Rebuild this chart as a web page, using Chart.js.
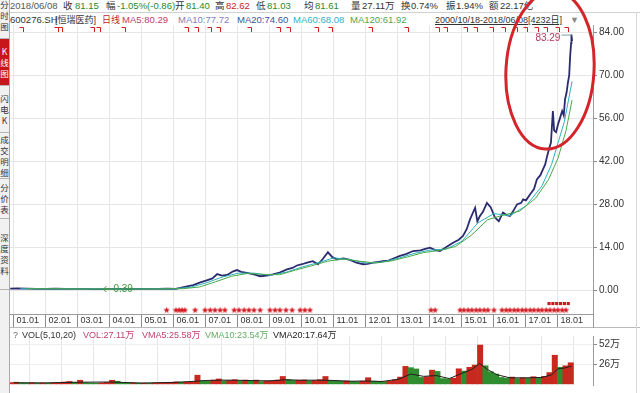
<!DOCTYPE html>
<html>
<head>
<meta charset="utf-8">
<script src="https://cdn.jsdelivr.net/npm/chart.js@4.4.1/dist/chart.umd.min.js"></script>
<style>
  html, body { margin: 0; padding: 0; background: #fff; }
  #page { position: relative; width: 640px; height: 393px; overflow: hidden; background: #fff;
          font-family: "Liberation Sans", Arial, "Noto Sans CJK SC", sans-serif; color: #333; }
  .t { position: absolute; white-space: nowrap; line-height: 12px; }
  .r1 { top: 0; font-size: 9.5px; }
  .r2 { top: 14px; font-size: 9.5px; }
  .g { color: #1f8a1f; }
  .red { color: #c41f1f; }
  #side { position: absolute; left: 0; top: 0; width: 9px; height: 393px; background: #f1f1f1;
          border-right: 1px solid #a9a9a9; z-index: 4; overflow: hidden; }
  .tab { position: absolute; left: 0; width: 9px; font-size: 8.5px; color: #333;
         border-bottom: 1px solid #b5b5b5; font-family: "Noto Sans CJK SC", sans-serif;
         display: flex; flex-direction: column; align-items: center; justify-content: center; }
  .tab span { display: block; line-height: 11px; height: 11px; }
  .tab.on { background: #c8161d; color: #fff; }
  .line { position: absolute; background: #b9b9b9; }
  canvas { position: absolute; left: 0; }
  #price { top: 0; z-index: 2; }
  #vol { top: 328px; z-index: 2; }
  .v { top: 329px; font-size: 9px; z-index: 3; }
</style>
</head>
<body>
<div id="page">
  <!-- header row 1 -->
  <span class="t r1" style="left:10px;color:#555">2018/06/08</span>
  <span class="t r1" style="left:63px">收</span><span class="t r1 g" style="left:75px">81.15</span>
  <span class="t r1" style="left:106px">幅</span><span class="t r1 g" style="left:117px">-1.05%(-0.86)</span>
  <span class="t r1" style="left:175px">开</span><span class="t r1 g" style="left:186px">81.40</span>
  <span class="t r1" style="left:215px">高</span><span class="t r1 red" style="left:226px">82.62</span>
  <span class="t r1" style="left:256px">低</span><span class="t r1 g" style="left:267px">81.03</span>
  <span class="t r1" style="left:304px">均</span><span class="t r1 g" style="left:315px">81.61</span>
  <span class="t r1" style="left:351px">量</span><span class="t r1" style="left:362px">27.11万</span>
  <span class="t r1" style="left:401px">换</span><span class="t r1" style="left:411px">0.74%</span>
  <span class="t r1" style="left:446px">振</span><span class="t r1" style="left:456px">1.94%</span>
  <span class="t r1" style="left:489px">额</span><span class="t r1" style="left:500px">22.17亿</span>
  <div class="line" style="left:10px;top:12px;width:630px;height:1px;background:#d0d0d0"></div>
  <!-- header row 2 -->
  <span class="t r2" style="left:10px">600276.SH</span>
  <span class="t r2" style="left:55px;font-size:9px">[恒瑞医药]</span>
  <span class="t r2 red" style="left:102px;font-size:9px">日线</span>
  <span class="t r2" style="left:122px;color:#c0406e">MA5:80.29</span>
  <span class="t r2" style="left:178px;color:#7d83bd">MA10:77.72</span>
  <span class="t r2" style="left:237px;color:#34569e">MA20:74.60</span>
  <span class="t r2" style="left:293px;color:#2fb2c8">MA60:68.08</span>
  <span class="t r2" style="left:350px;color:#4fa64f">MA120:61.92</span>
  <span class="t r2" style="left:435px;text-decoration:underline;font-size:9px">2000/10/18-2018/06/08[4232日]</span>
  <span class="t r2" style="left:570px;color:#888;font-size:9px">▼</span>

  <div id="side">
    <div class="tab" style="top:-8px;height:46px"><span>分</span><span>时</span><span>图</span></div>
    <div class="tab on" style="top:39px;height:46px"><span>K</span><span>线</span><span>图</span></div>
    <div class="tab" style="top:86px;height:46px"><span>闪</span><span>电</span><span>K</span></div>
    <div class="tab" style="top:133px;height:45px"><span>成</span><span>交</span><span>明</span><span>细</span></div>
    <div class="tab" style="top:179px;height:39px"><span>分</span><span>价</span><span>表</span></div>
    <div class="tab" style="top:219px;height:70px"><span>深</span><span>度</span><span>资</span><span>料</span></div>
  </div>

  <canvas id="price" width="640" height="328"></canvas>
  <canvas id="vol" width="640" height="65"></canvas>

  <!-- frame lines -->
  <div class="line" style="left:10px;top:327px;width:630px;height:1px"></div>
  <div class="line" style="left:593px;top:314px;width:1px;height:14px;background:#9a9a9a"></div>
  <div class="line" style="left:636px;top:12px;width:1px;height:381px;background:#d6d6d6"></div>

  <!-- volume title -->
  <span class="t v" style="left:13px;color:#666">?</span>
  <span class="t v" style="left:22px">VOL(5,10,20)</span>
  <span class="t v" style="left:83px;color:#c0406e">VOL:27.11万</span>
  <span class="t v" style="left:142px;color:#c0406e">VMA5:25.58万</span>
  <span class="t v" style="left:205px;color:#62ad62">VMA10:23.54万</span>
  <span class="t v" style="left:273px;color:#222">VMA20:17.64万</span>
</div>

<script>
// --- Price data (adjusted close) ---
const closeDates = [2000.88, 2001.1, 2001.4, 2001.7, 2002.0, 2002.3, 2002.6, 2002.9, 2003.2, 2003.5,
  2003.7, 2004.0, 2004.3, 2004.6, 2004.9, 2005.2, 2005.5, 2005.8, 2006.05, 2006.2,
  2006.45, 2006.6, 2006.8, 2007.0, 2007.2, 2007.35, 2007.5, 2007.66, 2007.85, 2007.97,
  2008.1, 2008.28, 2008.5, 2008.69, 2008.9, 2009.09, 2009.3, 2009.53, 2009.7, 2009.84,
  2010.0, 2010.16, 2010.34, 2010.5, 2010.65, 2010.81, 2010.95, 2011.09, 2011.3, 2011.5,
  2011.7, 2011.91, 2012.05, 2012.22, 2012.4, 2012.53, 2012.7, 2012.84, 2013.06, 2013.25,
  2013.47, 2013.7, 2013.85, 2014.0, 2014.15, 2014.31, 2014.5, 2014.72, 2014.9, 2015.03,
  2015.15, 2015.25, 2015.35, 2015.41, 2015.48, 2015.56, 2015.65, 2015.78, 2015.9, 2016.03,
  2016.15, 2016.28, 2016.4, 2016.5, 2016.6, 2016.72, 2016.85, 2016.91, 2017.0, 2017.13,
  2017.25, 2017.34, 2017.45, 2017.53, 2017.6, 2017.66, 2017.72, 2017.78, 2017.84, 2017.88,
  2017.94, 2018.0, 2018.06, 2018.13, 2018.18, 2018.22, 2018.27, 2018.31, 2018.35, 2018.38,
  2018.41, 2018.42, 2018.44];
const close = [0.55, 0.6, 0.55, 0.5, 0.48, 0.52, 0.5, 0.45, 0.47, 0.42,
  0.39, 0.45, 0.48, 0.44, 0.46, 0.5, 0.48, 0.55, 0.5, 0.8,
  1.4, 1.7, 2.5, 3.2, 3.9, 5.3, 4.8, 5.0, 6.2, 6.6,
  6.0, 5.7, 5.2, 4.6, 4.8, 5.2, 5.8, 6.8, 7.3, 8.1,
  8.5, 9.0, 9.5, 8.5, 10.2, 12.4, 10.8, 10.1, 10.4, 9.9,
  9.0, 8.5, 8.6, 9.0, 9.3, 9.5, 9.7, 10.3, 11.2, 11.8,
  12.8, 13.0, 13.5, 13.9, 13.2, 12.8, 14.0, 15.5, 16.5, 17.7,
  20.0, 23.1, 25.5, 26.9, 22.5, 24.2, 25.5, 28.5, 27.0, 23.7,
  22.5, 25.3, 24.5, 24.2, 25.8, 28.0, 28.5, 29.6, 29.3, 31.3,
  33.0, 36.1, 37.5, 39.4, 41.0, 43.7, 46.0, 48.1, 58.4, 52.0,
  51.5, 54.0, 56.0, 58.4, 57.0, 62.2, 64.5, 67.6, 70.0, 76.3,
  80.5, 83.29, 81.15];

const ma60Dates = [2001.2, 2002.0, 2003.0, 2004.0, 2005.0, 2006.0, 2006.5, 2007.0, 2007.5, 2008.0,
  2008.5, 2009.0, 2009.5, 2010.0, 2010.5, 2011.0, 2011.5, 2012.0, 2012.5, 2013.0,
  2013.5, 2014.0, 2014.5, 2015.0, 2015.5, 2016.0, 2016.5, 2017.0, 2017.5, 2017.8,
  2018.0, 2018.2, 2018.44];
const ma60 = [0.55, 0.5, 0.47, 0.43, 0.46, 0.5, 1.0, 2.4, 4.3, 5.6,
  5.6, 4.9, 5.9, 7.6, 9.0, 10.6, 10.0, 8.9, 9.2, 10.4,
  12.0, 13.1, 13.4, 16.0, 22.0, 25.0, 24.3, 27.5, 34.0, 41.0,
  48.0, 55.0, 68.08];

const ma120Dates = [2001.4, 2002.5, 2003.5, 2004.5, 2005.5, 2006.3, 2006.8, 2007.3, 2007.8, 2008.3,
  2008.8, 2009.3, 2009.8, 2010.3, 2010.8, 2011.3, 2011.8, 2012.3, 2012.8, 2013.3,
  2013.8, 2014.3, 2014.8, 2015.3, 2015.8, 2016.3, 2016.8, 2017.3, 2017.7, 2018.0,
  2018.25, 2018.44];
const ma120 = [0.55, 0.5, 0.46, 0.44, 0.47, 0.55, 1.1, 2.8, 4.6, 5.5,
  5.2, 5.1, 6.6, 8.0, 9.5, 10.2, 9.5, 8.9, 9.6, 10.9,
  12.3, 13.0, 14.3, 18.0, 23.0, 24.5, 25.8, 30.0, 36.0, 43.0,
  52.0, 61.92];

// --- Volume (万手), one bar every two months from late 2000 ---
const volStart = 2000.9;
const volStep = 1 / 6;
const volume = [1.8, 2.2, 1.2, 1.0, 1.4, 0.9, 1.1, 1.0, 1.3, 1.6,
  2.4, 3.2, 2.0, 4.8, 1.6, 1.2, 1.0, 1.3, 2.0, 4.8,
  3.5, 1.5, 1.0, 1.2, 0.9, 1.0, 0.8, 1.1, 1.3, 1.5,
  2.0, 2.6, 2.2, 2.5, 3.0, 11.5, 4.0, 3.5, 5.0, 6.5,
  4.0, 4.5, 5.5, 4.0, 5.0, 3.5, 5.0, 3.0, 3.8, 4.2,
  5.0, 9.8, 5.5, 4.5, 4.8, 5.2, 4.0, 4.5, 5.5, 9.8,
  4.5, 4.0, 3.5, 3.8, 3.2, 3.0, 3.6, 8.2, 3.5, 3.2,
  3.0, 3.4, 5.5, 9.0, 23.2, 21.5, 19.8, 8.5, 9.5, 18.2,
  16.5, 7.0, 6.5, 7.5, 20.0, 17.0, 22.0, 25.0, 51.5, 24.0,
  16.0, 13.0, 8.5, 7.5, 9.0, 7.0, 8.0, 7.5, 9.5, 8.0,
  10.0, 15.0, 38.0, 22.0, 24.0, 28.0];
const vmaDates = [2001.0, 2002.0, 2003.0, 2004.0, 2005.0, 2006.0, 2006.5, 2007.0, 2007.5, 2008.0,
  2008.5, 2009.0, 2009.5, 2010.0, 2010.5, 2011.0, 2011.5, 2012.0, 2012.5, 2013.0,
  2013.4, 2013.8, 2014.2, 2014.6, 2015.0, 2015.3, 2015.55, 2015.8, 2016.1, 2016.5,
  2017.0, 2017.5, 2017.8, 2018.0, 2018.2, 2018.42];
const vma = [1.5, 1.3, 2.2, 2.5, 1.1, 2.0, 3.0, 4.5, 5.0, 4.8,
  4.3, 4.0, 5.5, 4.8, 5.0, 4.5, 3.5, 3.8, 3.2, 6.0,
  13.0, 10.0, 11.0, 7.0, 14.0, 19.0, 27.0, 19.0, 12.0, 8.0,
  8.0, 8.5, 12.0, 20.0, 21.0, 23.5];

// --- Axes ---
const yearTicks = [2001, 2002, 2003, 2004, 2005, 2006, 2007, 2008, 2009, 2010,
  2011, 2012, 2013, 2014, 2015, 2016, 2017, 2018];
const yearLabels = ['01.01', '02.01', '03.01', '04.01', '05.01', '06.01', '07.01', '08.01', '09.01', '10.01',
  '11.01', '12.01', '13.01', '14.01', '15.01', '16.01', '17.01', '18.01'];
const priceTicks = [0, 14, 28, 42, 56, 70, 84];
const volTicks = [26, 52];
const volLabels = ['26万', '52万'];

// --- Event marks ---
const starDates = [2005.77, 2006.06, 2006.16, 2006.25, 2006.34, 2006.66, 2006.97, 2007.13, 2007.28, 2007.44,
  2007.59, 2007.88, 2008.03, 2008.19, 2008.34, 2008.5, 2008.69, 2009.0, 2009.16, 2009.31,
  2009.5, 2009.69, 2009.94, 2010.09, 2010.25, 2014.03, 2014.16, 2014.94, 2015.06, 2015.19,
  2015.31, 2015.44, 2015.56, 2015.69, 2015.81, 2016.0, 2016.25, 2016.38, 2016.5, 2016.63,
  2016.75, 2016.88, 2017.0, 2017.13, 2017.25, 2017.38, 2017.5, 2017.63, 2017.75, 2017.88,
  2018.0, 2018.13, 2018.25];
const reportDates = [2017.72, 2017.84, 2017.96, 2018.08, 2018.2, 2018.32];
const mineDates = [2001.28, 2002.38, 2002.5, 2003.5, 2003.69, 2004.47, 2006.44, 2006.75, 2007.16, 2007.44,
  2008.41, 2009.31, 2009.63, 2010.5, 2010.94, 2012.19, 2013.31, 2014.28, 2014.53, 2015.16,
  2015.47, 2015.97, 2016.34, 2016.72, 2017.03, 2017.38, 2017.66, 2018.03, 2018.31];

const FONT = '"Liberation Sans", Arial, "Noto Sans CJK SC", sans-serif';
Chart.defaults.font.family = FONT;

const xMin = 2000.875, xMax = 2019.094;
const pts = (xs, ys) => xs.map((x, i) => ({ x: x, y: ys[i] }));

// small filled star used for the event row
const starImg = document.createElement('canvas');
starImg.width = 7; starImg.height = 7;
(function () {
  const c = starImg.getContext('2d');
  c.fillStyle = '#d3141b';
  c.beginPath();
  for (let i = 0; i < 10; i++) {
    const r = i % 2 ? 1.4 : 3.4;
    const a = -Math.PI / 2 + i * Math.PI / 5;
    c.lineTo(3.5 + r * Math.cos(a), 3.7 + r * Math.sin(a));
  }
  c.closePath();
  c.fill();
})();

const annotate = {
  id: 'annotate',
  afterDraw(chart) {
    const { ctx, chartArea } = chart;
    const x = chart.scales.x, y = chart.scales.y;
    ctx.save();

    // info markers along the top
    ctx.strokeStyle = '#cf1f1f';
    ctx.lineWidth = 1;
    mineDates.forEach(d => {
      const px = Math.round(x.getPixelForValue(d)) + 0.5;
      ctx.beginPath();
      ctx.moveTo(px - 4, chartArea.top + 2.5);
      ctx.lineTo(px, chartArea.top + 2.5);
      ctx.lineTo(px, chartArea.top + 7);
      ctx.stroke();
    });

    // highest price label
    let hi = 0, lo = 0;
    close.forEach((v, i) => { if (v > close[hi]) hi = i; if (v < close[lo]) lo = i; });
    const hx = x.getPixelForValue(closeDates[hi]), hy = y.getPixelForValue(close[hi]);
    ctx.font = '10px ' + FONT;
    ctx.textBaseline = 'middle';
    ctx.textAlign = 'right';
    ctx.fillStyle = '#b3385a';
    ctx.fillText(close[hi].toFixed(2), hx - 11, hy + 4);
    ctx.strokeStyle = '#7fa0a0';
    ctx.beginPath(); ctx.moveTo(hx - 10, hy + 0.5); ctx.lineTo(hx, hy + 0.5); ctx.stroke();

    // lowest price label with arrow
    const lx = x.getPixelForValue(closeDates[lo]), ly = y.getPixelForValue(close[lo]);
    ctx.strokeStyle = '#4a9a4a';
    ctx.beginPath();
    ctx.moveTo(lx + 3, ly); ctx.lineTo(lx + 12, ly);
    ctx.moveTo(lx + 6, ly - 3); ctx.lineTo(lx + 3, ly); ctx.lineTo(lx + 6, ly + 3);
    ctx.stroke();
    ctx.textAlign = 'left';
    ctx.fillStyle = '#3f973f';
    ctx.fillText(close[lo].toFixed(2), lx + 13, ly);

    // hand-drawn red circle around the latest rally
    ctx.strokeStyle = '#d3252a';
    ctx.lineWidth = 3;
    ctx.beginPath();
    ctx.ellipse(x.getPixelForValue(2017.75), y.getPixelForValue(71.7), 44, 79, 0.06, 0, Math.PI * 2);
    ctx.stroke();
    ctx.restore();
  }
};

new Chart(document.getElementById('price'), {
  type: 'line',
  data: {
    datasets: [
      { data: pts(ma120Dates, ma120), borderColor: '#49a849', borderWidth: 1, pointRadius: 0 },
      { data: pts(ma60Dates, ma60), borderColor: '#2db1bf', borderWidth: 1, pointRadius: 0 },
      { data: pts(closeDates, close), borderColor: '#2b2c6f', borderWidth: 1.8, pointRadius: 0 },
      { type: 'scatter', data: starDates.map(d => ({ x: d, y: -6.4 })), pointStyle: starImg, pointRadius: 3 },
      { type: 'scatter', data: reportDates.map(d => ({ x: d, y: -4.3 })), pointStyle: 'rect',
        pointRadius: 2.2, backgroundColor: '#c8161d', borderColor: '#c8161d', borderWidth: 0 }
    ]
  },
  options: {
    responsive: false,
    animation: false,
    layout: { padding: { top: 25, left: 10 } },
    plugins: { legend: { display: false }, tooltip: { enabled: false } },
    scales: {
      x: {
        type: 'linear', min: xMin, max: xMax,
        afterBuildTicks: s => { s.ticks = yearTicks.map(v => ({ value: v })); },
        afterFit: s => { s.height = 14; },
        grid: { color: '#e6e6e6', tickLength: 13, tickColor: '#8a8a8a' },
        border: { color: '#9a9a9a' },
        ticks: { align: 'start', padding: -11.5, autoSkip: false, maxRotation: 0,
                 font: { size: 9 }, color: '#333', callback: (v, i) => ' ' + yearLabels[i] }
      },
      y: {
        position: 'right', min: -7.7, max: 86.4,
        afterBuildTicks: s => { s.ticks = priceTicks.map(v => ({ value: v })); },
        afterFit: s => { s.width = 47; },
        grid: { color: '#e6e6e6', tickLength: 4, tickColor: '#8a8a8a' },
        border: { color: '#9a9a9a' },
        ticks: { padding: 2, font: { size: 10 }, color: '#333', callback: v => v.toFixed(2) }
      }
    }
  },
  plugins: [annotate]
});

const volColors = volume.map((v, i) => (i === 0 || v >= volume[i - 1]) ? '#c62a1f' : '#2f8c2f');
new Chart(document.getElementById('vol'), {
  type: 'bar',
  data: {
    datasets: [
      { type: 'line', data: pts(vmaDates, vma), borderColor: '#1e1e1e', borderWidth: 1, pointRadius: 0 },
      { data: volume.map((v, i) => ({ x: volStart + i * volStep, y: v })), backgroundColor: volColors,
        barPercentage: 1, categoryPercentage: 1 }
    ]
  },
  options: {
    responsive: false,
    animation: false,
    layout: { padding: { left: 10 } },
    plugins: { legend: { display: false }, tooltip: { enabled: false } },
    scales: {
      x: {
        type: 'linear', min: xMin, max: xMax, offset: false,
        afterBuildTicks: s => { s.ticks = yearTicks.map(v => ({ value: v })); },
        afterFit: s => { s.height = 0; },
        grid: { color: '#e6e6e6', drawTicks: false },
        border: { display: false },
        ticks: { display: false }
      },
      y: {
        position: 'right', min: -1.5, max: 63.5,
        afterBuildTicks: s => { s.ticks = volTicks.map(v => ({ value: v })); },
        afterFit: s => { s.width = 47; },
        grid: { color: '#eeeeee', tickLength: 4, tickColor: '#8a8a8a' },
        border: { color: '#9a9a9a' },
        ticks: { padding: 2, font: { size: 10 }, color: '#333', callback: (v, i) => volLabels[i] }
      }
    }
  }
});
</script>
</body>
</html>
